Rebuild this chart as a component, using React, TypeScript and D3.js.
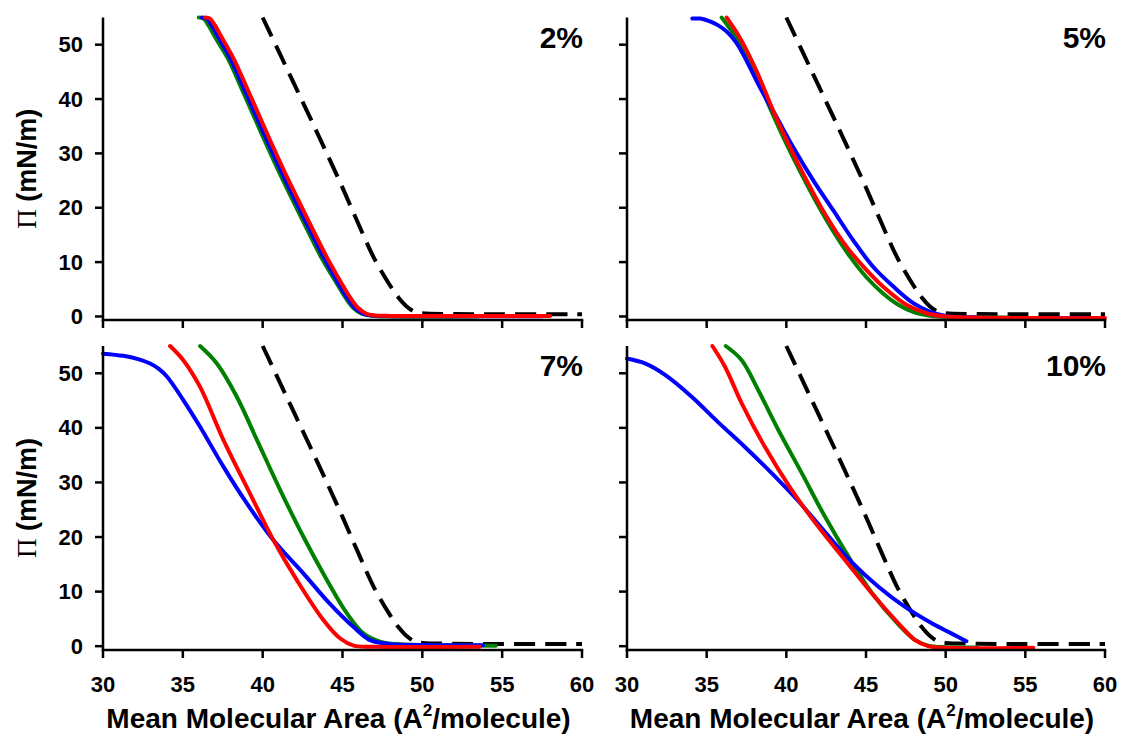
import React from "react";
import * as d3 from "d3";

const xTicks = [30, 35, 40, 45, 50, 55, 60];
const yTicks = [0, 10, 20, 30, 40, 50];
const panelLabels = ["2%", "5%", "7%", "10%"];

// Reference (dashed black) isotherm, same in all panels
const refArea = [40.0, 41.0, 42.0, 43.0, 44.0, 45.0, 46.0, 47.0, 48.0, 48.5, 49.0, 49.5, 50.0, 52.0, 55.0, 60.0];
const refPi = [55.0, 48.8, 42.6, 36.4, 30.1, 23.7, 17.0, 10.6, 5.6, 3.5, 1.9, 0.9, 0.6, 0.45, 0.4, 0.4];

// 2%
const area2Green = [36.0, 36.3, 36.6, 37.1, 37.85, 38.85, 39.95, 41.15, 42.45, 43.65, 44.7, 45.2, 45.7, 46.2, 46.8, 48.0, 53.5];
const pi2Green = [55.0, 54.8, 53.6, 51.0, 47.3, 40.8, 33.5, 25.8, 18.0, 11.0, 5.8, 3.4, 1.5, 0.5, 0.15, 0.0, 0.0];
const area2Blue = [36.2, 36.5, 36.8, 37.3, 38.0, 39.0, 40.1, 41.3, 42.6, 43.8, 44.8, 45.3, 45.8, 46.3, 46.8, 48.0, 52.0, 57.5];
const pi2Blue = [55.0, 54.8, 53.6, 51.0, 47.3, 40.8, 33.5, 25.8, 18.0, 11.0, 5.8, 3.4, 1.5, 0.5, 0.2, 0.05, 0.05, 0.05];
const area2Red = [36.4, 36.7, 37.0, 37.5, 38.2, 39.2, 40.3, 41.5, 42.8, 44.0, 45.0, 45.5, 46.0, 46.5, 47.0, 48.0, 52.0, 58.0];
const pi2Red = [55.0, 54.8, 53.6, 51.0, 47.3, 40.8, 33.5, 25.8, 18.0, 11.0, 5.8, 3.4, 1.5, 0.5, 0.2, 0.1, 0.1, 0.1];

// 5%
const area5Green = [35.94, 36.3, 37.0, 38.0, 39.0, 40.0, 41.0, 42.0, 43.0, 44.0, 45.0, 46.0, 47.0, 48.0, 49.0, 50.0, 54.0];
const pi5Green = [55.0, 53.6, 50.5, 45.0, 38.2, 31.8, 25.9, 20.4, 15.4, 11.0, 7.3, 4.4, 2.2, 0.8, 0.15, -0.1, -0.2];
const area5Blue = [34.1, 34.6, 35.2, 35.7, 36.26, 36.8, 37.3, 38.35, 39.4, 40.44, 41.7, 42.95, 44.2, 45.46, 46.72, 47.97, 49.0, 50.0, 52.0, 56.0, 59.5];
const pi5Blue = [54.8, 54.8, 54.3, 53.6, 52.4, 50.6, 48.2, 42.1, 36.6, 31.1, 25.0, 19.5, 14.0, 9.1, 5.5, 2.45, 0.9, 0.1, -0.2, -0.3, -0.3];
const area5Red = [36.26, 36.6, 37.1, 38.14, 39.18, 40.23, 41.28, 42.54, 43.79, 45.05, 46.3, 47.56, 48.81, 50.0, 52.0, 56.0, 60.0];
const pi5Red = [55.0, 53.5, 51.2, 45.1, 37.8, 31.1, 25.0, 18.3, 12.8, 8.5, 4.9, 2.1, 0.6, 0.0, -0.2, -0.3, -0.3];

// 7%
const area7Green = [36.08, 37.13, 38.38, 39.64, 41.1, 42.56, 44.03, 45.28, 46.33, 47.4, 49.0, 52.0, 54.6];
const pi7Green = [55.0, 51.8, 45.7, 37.8, 28.6, 20.0, 12.1, 6.0, 2.3, 0.8, 0.3, 0.15, 0.1];
const area7Blue = [30.0, 31.27, 32.2, 32.95, 33.5, 34.0, 35.03, 36.08, 37.54, 39.0, 40.68, 42.56, 44.2, 45.7, 46.74, 48.0, 50.0, 53.8];
const pi7Blue = [53.6, 53.2, 52.6, 51.8, 50.8, 49.4, 45.1, 40.2, 32.9, 26.2, 19.4, 13.3, 7.8, 3.5, 1.1, 0.37, 0.2, 0.15];
const area7Red = [34.2, 35.03, 36.08, 37.54, 39.2, 40.68, 42.14, 43.8, 44.86, 45.7, 47.0, 53.6];
const pi7Red = [55.0, 52.4, 47.5, 37.8, 28.0, 19.4, 12.1, 4.8, 1.4, 0.1, -0.1, -0.1];

// 10%
const area10Green = [36.2, 37.2, 38.24, 39.5, 40.97, 42.43, 43.9, 45.36, 47.03, 48.1, 48.9, 50.0, 52.0];
const pi10Green = [55.0, 52.4, 46.9, 39.6, 31.7, 23.7, 16.4, 9.8, 4.0, 1.1, 0.1, -0.2, -0.25];
const area10Blue = [30.0, 31.13, 32.39, 34.06, 35.73, 37.4, 39.08, 40.75, 42.43, 44.1, 45.78, 47.45, 49.13, 50.38, 51.3];
const pi10Blue = [52.7, 51.8, 49.7, 45.7, 41.0, 36.5, 31.7, 26.6, 20.9, 15.4, 10.9, 7.2, 4.2, 2.3, 0.9];
const area10Red = [35.36, 36.15, 37.2, 38.66, 40.34, 42.0, 43.68, 45.36, 47.03, 48.08, 48.9, 50.0, 55.5];
const pi10Red = [55.0, 51.2, 44.5, 36.5, 28.6, 21.9, 15.8, 9.7, 4.2, 1.1, 0.0, -0.3, -0.3];

const GREEN = "#008000";
const BLUE = "#0000ff";
const RED = "#ff0000";

const seriesByPanel = [
  [
    { a: area2Green, p: pi2Green, c: GREEN },
    { a: area2Blue, p: pi2Blue, c: BLUE },
    { a: area2Red, p: pi2Red, c: RED },
  ],
  [
    { a: area5Green, p: pi5Green, c: GREEN },
    { a: area5Blue, p: pi5Blue, c: BLUE },
    { a: area5Red, p: pi5Red, c: RED },
  ],
  [
    { a: area7Green, p: pi7Green, c: GREEN },
    { a: area7Blue, p: pi7Blue, c: BLUE },
    { a: area7Red, p: pi7Red, c: RED },
  ],
  [
    { a: area10Green, p: pi10Green, c: GREEN },
    { a: area10Blue, p: pi10Blue, c: BLUE },
    { a: area10Red, p: pi10Red, c: RED },
  ],
];

const geom = [
  { x0: 103, x1: 582, yb: 320, yt: 17.5, ymin: -0.65, showX: false, showY: true },
  { x0: 627, x1: 1105, yb: 320, yt: 17.5, ymin: -0.65, showX: false, showY: false },
  { x0: 103, x1: 582, yb: 650, yt: 346, ymin: -0.7, showX: true, showY: true },
  { x0: 627, x1: 1105, yb: 650, yt: 346, ymin: -0.7, showX: true, showY: false },
];

const FONT = "'Liberation Sans', Arial, sans-serif";

function Panel({ i }: { i: number }) {
  const g = geom[i];
  const x = d3.scaleLinear().domain([30, 60]).range([g.x0, g.x1]);
  const y = d3.scaleLinear().domain([g.ymin, 55]).range([g.yb, g.yt]);
  const line = d3
    .line<[number, number]>()
    .x((d) => x(d[0]))
    .y((d) => y(d[1]))
    .curve(d3.curveCatmullRom.alpha(0.5));
  const refPts = refArea.map((a, k) => [a, refPi[k]] as [number, number]);
  const cx = (g.x0 + g.x1) / 2;
  const cy = (g.yb + g.yt) / 2;
  return (
    <g>
      <path d={line(refPts) || ""} fill="none" stroke="#000" strokeWidth={4} strokeDasharray="21 10" />
      {seriesByPanel[i].map((s, k) => (
        <path
          key={k}
          d={line(s.a.map((a, j) => [a, s.p[j]] as [number, number])) || ""}
          fill="none"
          stroke={s.c}
          strokeWidth={4}
          strokeLinejoin="round"
          strokeLinecap="round"
        />
      ))}
      {/* axes */}
      <line x1={g.x0} x2={g.x0} y1={g.yb + 1.25} y2={g.yt} stroke="#000" strokeWidth={2.5} />
      <line x1={g.x0 - 1.25} x2={g.x1 + 1.25} y1={g.yb} y2={g.yb} stroke="#000" strokeWidth={2.5} />
      {yTicks.map((t) => (
        <g key={"y" + t}>
          <line x1={g.x0 - 8} x2={g.x0} y1={y(t)} y2={y(t)} stroke="#000" strokeWidth={2.5} />
          {g.showY && (
            <text
              x={g.x0 - 20}
              y={y(t)}
              textAnchor="end"
              dominantBaseline="central"
              fontFamily={FONT}
              fontWeight="bold"
              fontSize={22}
            >
              {t}
            </text>
          )}
        </g>
      ))}
      {xTicks.map((t) => (
        <g key={"x" + t}>
          <line x1={x(t)} x2={x(t)} y1={g.yb} y2={g.yb + 8} stroke="#000" strokeWidth={2.5} />
          {g.showX && (
            <text x={x(t)} y={692} textAnchor="middle" fontFamily={FONT} fontWeight="bold" fontSize={22}>
              {t}
            </text>
          )}
        </g>
      ))}
      <text
        x={g.x1 + 1}
        y={g.yt + 30}
        textAnchor="end"
        fontFamily={FONT}
        fontWeight="bold"
        fontSize={30}
      >
        {panelLabels[i]}
      </text>
      {g.showY && (
        <text
          transform={`translate(27,${cy}) rotate(-90)`}
          textAnchor="middle"
          dominantBaseline="central"
          fontFamily={FONT}
          fontWeight="bold"
          fontSize={27}
        >
          <tspan fontFamily="'Liberation Serif', 'Times New Roman', serif" fontWeight="normal">
            Π
          </tspan>
          <tspan> (mN/m)</tspan>
        </text>
      )}
      {g.showX && (
        <text x={cx - 4} y={728} textAnchor="middle" fontFamily={FONT} fontWeight="bold" fontSize={28}>
          <tspan>Mean Molecular Area (A</tspan>
          <tspan fontSize={17} dy={-12}>
            2
          </tspan>
          <tspan dy={12}>/molecule)</tspan>
        </text>
      )}
    </g>
  );
}

export default function App() {
  return (
    <svg
      width={1122}
      height={734}
      style={{ position: "absolute", left: 0, top: 0, background: "#fff" }}
    >
      <rect width={1122} height={734} fill="#fff" />
      {[0, 1, 2, 3].map((i) => (
        <Panel key={i} i={i} />
      ))}
    </svg>
  );
}
